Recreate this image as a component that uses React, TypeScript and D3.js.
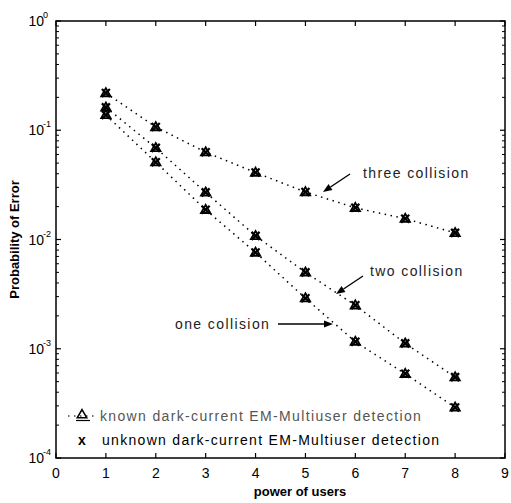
import React from "react";
import * as d3 from "d3";

const users = [1, 2, 3, 4, 5, 6, 7, 8];
const threeCollision = [0.219, 0.107, 0.063, 0.041, 0.0272, 0.0195, 0.0155, 0.0115];
const twoCollision = [0.162, 0.069, 0.027, 0.0108, 0.005, 0.0025, 0.00112, 0.00055];
const oneCollision = [0.138, 0.051, 0.0187, 0.0076, 0.0029, 0.00116, 0.00059, 0.00029];
const xTicks = [0, 1, 2, 3, 4, 5, 6, 7, 8, 9];
const yExponents = [0, -1, -2, -3, -4];
const legendLabels = [
  "known dark-current EM-Multiuser detection",
  "unknown dark-current EM-Multiuser detection",
];

const W = 511;
const H = 503;
const L = 56, R = 505, T = 21, B = 458;
const FONT = "'Liberation Sans', Arial, Helvetica, sans-serif";

export default function App() {
  const x = d3.scaleLinear().domain([0, 9]).range([L, R]);
  const y = d3.scaleLog().domain([1e-4, 1]).range([B, T]);
  const line = d3
    .line<number>()
    .x((_, i) => x(users[i]))
    .y((v) => y(v));
  const series = [threeCollision, twoCollision, oneCollision];
  const tri = d3.symbol().type(d3.symbolTriangle).size(38)() as string;

  const minor: number[] = [];
  for (let e = -4; e < 0; e++) {
    for (let k = 2; k <= 9; k++) minor.push(k * Math.pow(10, e));
  }

  const marker = (cx: number, cy: number, key: string) => (
    <g key={key} transform={`translate(${cx},${cy})`}>
      <path d={tri} fill="none" stroke="#000" strokeWidth={1.8} transform="translate(0,0.5)" />
      <line x1={-4} y1={-4} x2={4} y2={4} stroke="#000" strokeWidth={2.2} />
      <line x1={-4} y1={4} x2={4} y2={-4} stroke="#000" strokeWidth={2.2} />
    </g>
  );

  const arrow = (x1: number, y1: number, x2: number, y2: number, key: string) => {
    const ang = Math.atan2(y2 - y1, x2 - x1);
    const len = 9, wid = 3.5;
    const bx = x2 - len * Math.cos(ang), by = y2 - len * Math.sin(ang);
    const px = -Math.sin(ang) * wid, py = Math.cos(ang) * wid;
    return (
      <g key={key}>
        <line x1={x1} y1={y1} x2={bx} y2={by} stroke="#000" strokeWidth={1.3} />
        <path d={`M${x2},${y2}L${bx + px},${by + py}L${bx - px},${by - py}Z`} fill="#000" />
      </g>
    );
  };

  return (
    <svg
      width={W}
      height={H}
      style={{ position: "absolute", left: 0, top: 0, background: "#fff" }}
      fontFamily={FONT}
    >
      <rect x={0} y={0} width={W} height={H} fill="#fff" />
      {/* series lines */}
      {series.map((s, si) => (
        <path
          key={"l" + si}
          d={line(s) as string}
          fill="none"
          stroke="#000"
          strokeWidth={1.5}
          strokeDasharray="1.5,4.5"
        />
      ))}
      {/* markers */}
      {series.map((s, si) => s.map((v, i) => marker(x(users[i]), y(v), `m${si}-${i}`)))}

      {/* frame */}
      <rect x={L} y={T} width={R - L} height={B - T} fill="none" stroke="#000" strokeWidth={1.5} />
      {/* x ticks */}
      {xTicks.map((t) => (
        <g key={"xt" + t}>
          <line x1={x(t)} x2={x(t)} y1={B} y2={B - 5} stroke="#000" strokeWidth={1.2} />
          <line x1={x(t)} x2={x(t)} y1={T} y2={T + 5} stroke="#000" strokeWidth={1.2} />
          <text x={x(t)} y={B + 20} fontSize={14} textAnchor="middle">
            {t}
          </text>
        </g>
      ))}
      {/* y ticks */}
      {yExponents.map((e) => (
        <g key={"yt" + e}>
          <line x1={L} x2={L + 5} y1={y(Math.pow(10, e))} y2={y(Math.pow(10, e))} stroke="#000" strokeWidth={1.2} />
          <line x1={R} x2={R - 5} y1={y(Math.pow(10, e))} y2={y(Math.pow(10, e))} stroke="#000" strokeWidth={1.2} />
          <text x={L - 12} y={y(Math.pow(10, e)) + 5} fontSize={14} textAnchor="end">
            10
          </text>
          <text x={L - 13} y={y(Math.pow(10, e)) - 3} fontSize={9}>
            {e}
          </text>
        </g>
      ))}
      {minor.map((v, i) => (
        <g key={"mn" + i}>
          <line x1={L} x2={L + 3} y1={y(v)} y2={y(v)} stroke="#000" strokeWidth={1} />
          <line x1={R} x2={R - 3} y1={y(v)} y2={y(v)} stroke="#000" strokeWidth={1} />
        </g>
      ))}

      {/* axis labels */}
      <text x={300} y={496} fontSize={13} fontWeight="bold" textAnchor="middle">
        power of users
      </text>
      <text
        transform={`translate(19,${(T + B) / 2}) rotate(-90)`}
        fontSize={13}
        fontWeight="bold"
        textAnchor="middle"
      >
        Probability of Error
      </text>

      {/* annotations */}
      <text x={363} y={178} fontSize={14} letterSpacing={1.4} fill="#222">three collision</text>
      {arrow(350, 174, 323, 192, "a3")}
      <text x={370} y={276} fontSize={14} letterSpacing={1.4} fill="#222">two collision</text>
      {arrow(363, 276, 336, 294, "a2")}
      <text x={175} y={329} fontSize={14} letterSpacing={1.4} fill="#222">one collision</text>
      {arrow(278, 324, 333, 324, "a1")}

      {/* legend */}
      <line x1={68} x2={96} y1={416} y2={416} stroke="#444" strokeWidth={1.5} strokeDasharray="1.5,4.5" />
      <path d={tri} transform="translate(82,415)" fill="none" stroke="#000" strokeWidth={1.6} />
      <line x1={76} x2={90} y1={420.5} y2={420.5} stroke="#000" strokeWidth={1.2} />
      <text x={100} y={421} fontSize={14} letterSpacing={1.35} fill="#555">{legendLabels[0]}</text>
      <text x={82} y={445} fontSize={14} fontWeight="bold" textAnchor="middle">x</text>
      <text x={102} y={445} fontSize={14} letterSpacing={1.3}>{legendLabels[1]}</text>
    </svg>
  );
}
